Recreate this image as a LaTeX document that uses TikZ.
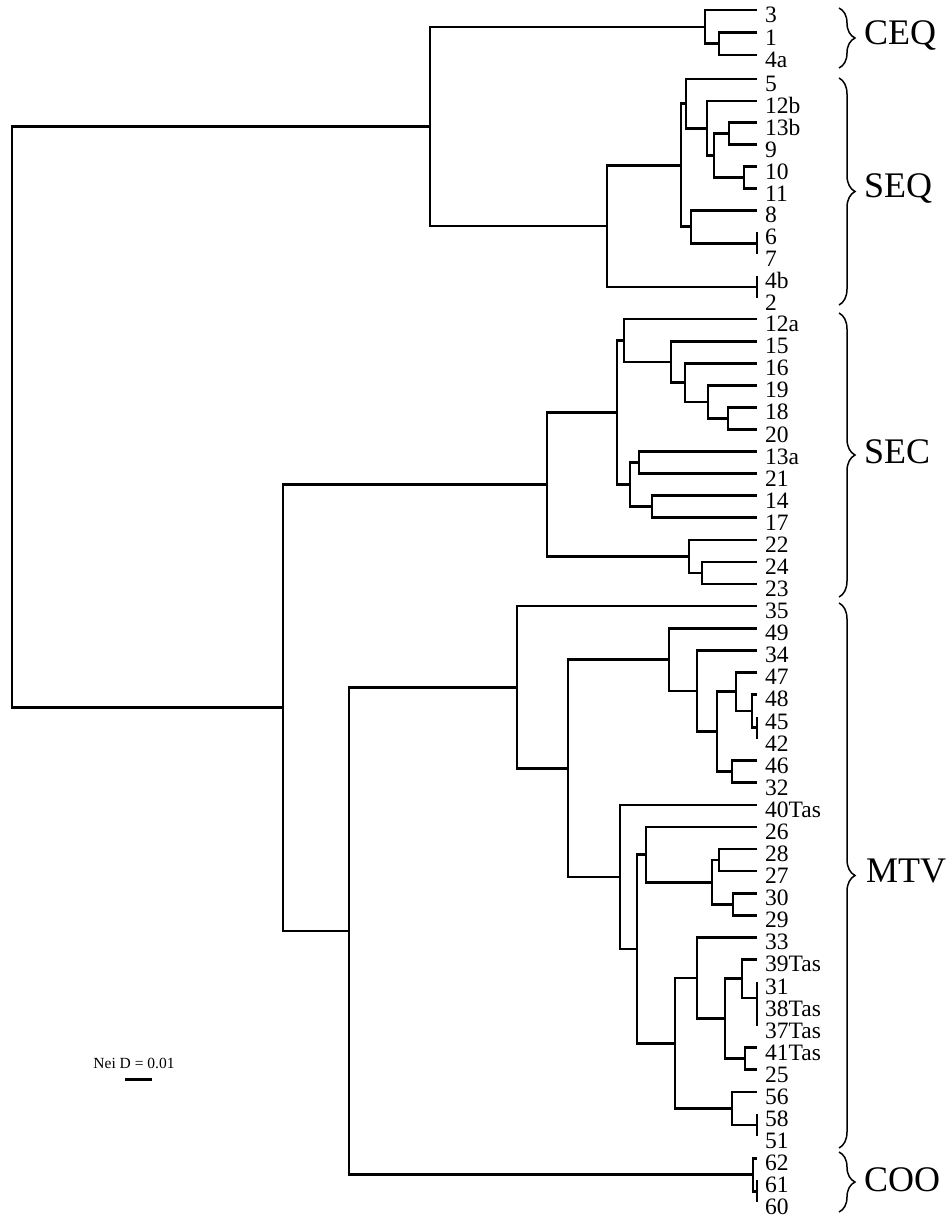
\documentclass[tikz,border=0pt]{standalone}
\usepackage{fontspec}
\setmainfont{Liberation Serif}
\usetikzlibrary{decorations.pathreplacing}
\begin{document}
\begin{tikzpicture}[x=1pt,y=-1pt,
  branch/.style={line width=2.7pt, line join=miter},
  leaflab/.style={anchor=base west, inner sep=0pt, font=\fontsize{23.5}{23.5}\selectfont},
  grplab/.style={anchor=west, inner sep=0pt, font=\fontsize{36}{36}\selectfont},
  grpbrace/.style={decorate, decoration={brace, amplitude=16pt}, line width=1.5pt},
  scalebar/.style={line width=3pt}
]
\useasboundingbox (0,0) rectangle (952,1218);

% leaf coordinates
\foreach \n/\yy in {3/10, 1/32.5, 4a/55, 5/79, 12b/100.9, 13b/122.8, 9/144.7, 10/166.6, 11/188.5, 8/210.4, 6/232.3, 7/254.2, 4b/276.1, 2/298}
  {\coordinate (L\n) at (757,\yy);}
\foreach \n [count=\i from 0] in {12a,15,16,19,18,20,13a,21,14,17,22,24,23,35,49,34,47,48,45,42,46,32,40Tas,26,28,27,30,29,33,39Tas,31,38Tas,37Tas,41Tas,25,56,58,51,62,61,60}
  {\coordinate (L\n) at (757,{319.1+22.08*\i});}

% leaf labels
\foreach \n in {3,1,4a,5,12b,13b,9,10,11,8,6,7,4b,2,12a,15,16,19,18,20,13a,21,14,17,22,24,23,35,49,34,47,48,45,42,46,32,40Tas,26,28,27,30,29,33,39Tas,31,38Tas,37Tas,41Tas,25,56,58,51,62,61,60}
  {\node[leaflab] (T\n) at ([xshift=8pt,yshift=-12.5pt]L\n) {\n};}

% internal nodes
\coordinate (c1) at (719,43.75);
\coordinate (nCEQ) at (705,26.9);
\coordinate (sa) at (729,133.75);
\coordinate (sb) at (744,177.55);
\coordinate (sc) at (714,155.65);
\coordinate (sd) at (707,128.3);
\coordinate (se) at (686,103.65);
\coordinate (sf) at (757,243.25);
\coordinate (sg) at (691,226.8);
\coordinate (sh) at (681,165.2);
\coordinate (si) at (757,287.05);
\coordinate (nSEQ) at (607,226.1);
\coordinate (top) at (430,126.5);

\coordinate (e1) at (728,418.45);
\coordinate (e2) at (708,401.9);
\coordinate (e3) at (685,382.6);
\coordinate (e4) at (671,361.9);
\coordinate (e5) at (624,340.5);
\coordinate (e6) at (639,462.65);
\coordinate (e7) at (652,506.8);
\coordinate (e8) at (630,484.7);
\coordinate (e9) at (617,412.6);
\coordinate (e10) at (702,573.05);
\coordinate (e11) at (689,556.5);
\coordinate (nSEC) at (547,484.55);

\coordinate (m1) at (757,727.6);
\coordinate (m2) at (752,711.05);
\coordinate (m3) at (736,691.7);
\coordinate (m4) at (732,771.75);
\coordinate (m5) at (717,731.7);
\coordinate (m6) at (697,691);
\coordinate (m7) at (669,659.6);
\coordinate (m8) at (719,860.05);
\coordinate (m9) at (733,904.25);
\coordinate (m10) at (712,882.15);
\coordinate (m11) at (646,854.6);
\coordinate (m12a) at (757,1014.65);
\coordinate (m12) at (757,998.1);
\coordinate (m13) at (742,978.75);
\coordinate (m14) at (745,1058.8);
\coordinate (m15) at (725,1018.8);
\coordinate (m16) at (697,978.1);
\coordinate (m17) at (757,1125.05);
\coordinate (m18) at (732,1108.5);
\coordinate (m19) at (675,1043.3);
\coordinate (m20) at (637,948.95);
\coordinate (m21) at (620,876.9);
\coordinate (m22) at (568,768.25);
\coordinate (nMTV) at (517,687.2);

\coordinate (o1) at (757,1191.25);
\coordinate (nCOO) at (753,1174.7);
\coordinate (B) at (349,930.95);
\coordinate (A) at (283,707.75);
\coordinate (root) at (12,417);

% branches
\foreach \p/\c in {root/top, root/A, top/nCEQ, top/nSEQ, nCEQ/L3, nCEQ/c1, c1/L1, c1/L4a,
  nSEQ/sh, nSEQ/si, sh/se, sh/sg, se/L5, se/sd, sd/L12b, sd/sc, sc/sa, sc/sb, sa/L13b, sa/L9,
  sb/L10, sb/L11, sg/L8, sg/sf, sf/L6, sf/L7, si/L4b, si/L2,
  A/nSEC, A/B, nSEC/e9, nSEC/e11, e9/e5, e9/e8, e5/L12a, e5/e4, e4/L15, e4/e3, e3/L16, e3/e2,
  e2/L19, e2/e1, e1/L18, e1/L20, e8/e6, e8/e7, e6/L13a, e6/L21, e7/L14, e7/L17, e11/L22, e11/e10,
  e10/L24, e10/L23,
  B/nMTV, B/nCOO, nMTV/L35, nMTV/m22, m22/m7, m22/m21, m7/L49, m7/m6, m6/L34, m6/m5, m5/m3, m5/m4,
  m3/L47, m3/m2, m2/L48, m2/m1, m1/L45, m1/L42, m4/L46, m4/L32, m21/L40Tas, m21/m20, m20/m11, m20/m19,
  m11/L26, m11/m10, m10/m8, m10/m9, m8/L28, m8/L27, m9/L30, m9/L29, m19/m16, m19/m18, m16/L33, m16/m15,
  m15/m13, m15/m14, m13/L39Tas, m13/m12, m12/L31, m12/m12a, m12a/L38Tas, m12a/L37Tas, m14/L41Tas, m14/L25,
  m18/L56, m18/m17, m17/L58, m17/L51, nCOO/L62, nCOO/o1, o1/L61, o1/L60}
  {\draw[branch] (\p) |- (\c);}

% group braces
\coordinate (bCEQt) at (839,8);    \coordinate (bCEQb) at (839,68);
\coordinate (bSEQt) at (839,78);   \coordinate (bSEQb) at (839,305);
\coordinate (bSECt) at (839,313);  \coordinate (bSECb) at (839,597);
\coordinate (bMTVt) at (839,603);  \coordinate (bMTVb) at (839,1148);
\coordinate (bCOOt) at (839,1152); \coordinate (bCOOb) at (839,1212);
\foreach \g in {CEQ,SEQ,SEC,MTV,COO}
  {\draw[grpbrace] (b\g t) -- (b\g b);}
\node[grplab] (gCEQ) at (864,35) {CEQ};
\node[grplab] (gSEQ) at (864,188) {SEQ};
\node[grplab] (gSEC) at (864,452) {SEC};
\node[grplab] (gMTV) at (866,871) {MTV};
\node[grplab] (gCOO) at (864,1180) {COO};

% scale
\node[inner sep=0pt, font=\fontsize{15.5}{15.5}\selectfont] (nei) at (134,1063) {Nei D = 0.01};
\coordinate (sbl) at (125,1079);
\coordinate (sbr) at (152,1079);
\draw[scalebar] (sbl) -- (sbr);
\end{tikzpicture}
\end{document}
